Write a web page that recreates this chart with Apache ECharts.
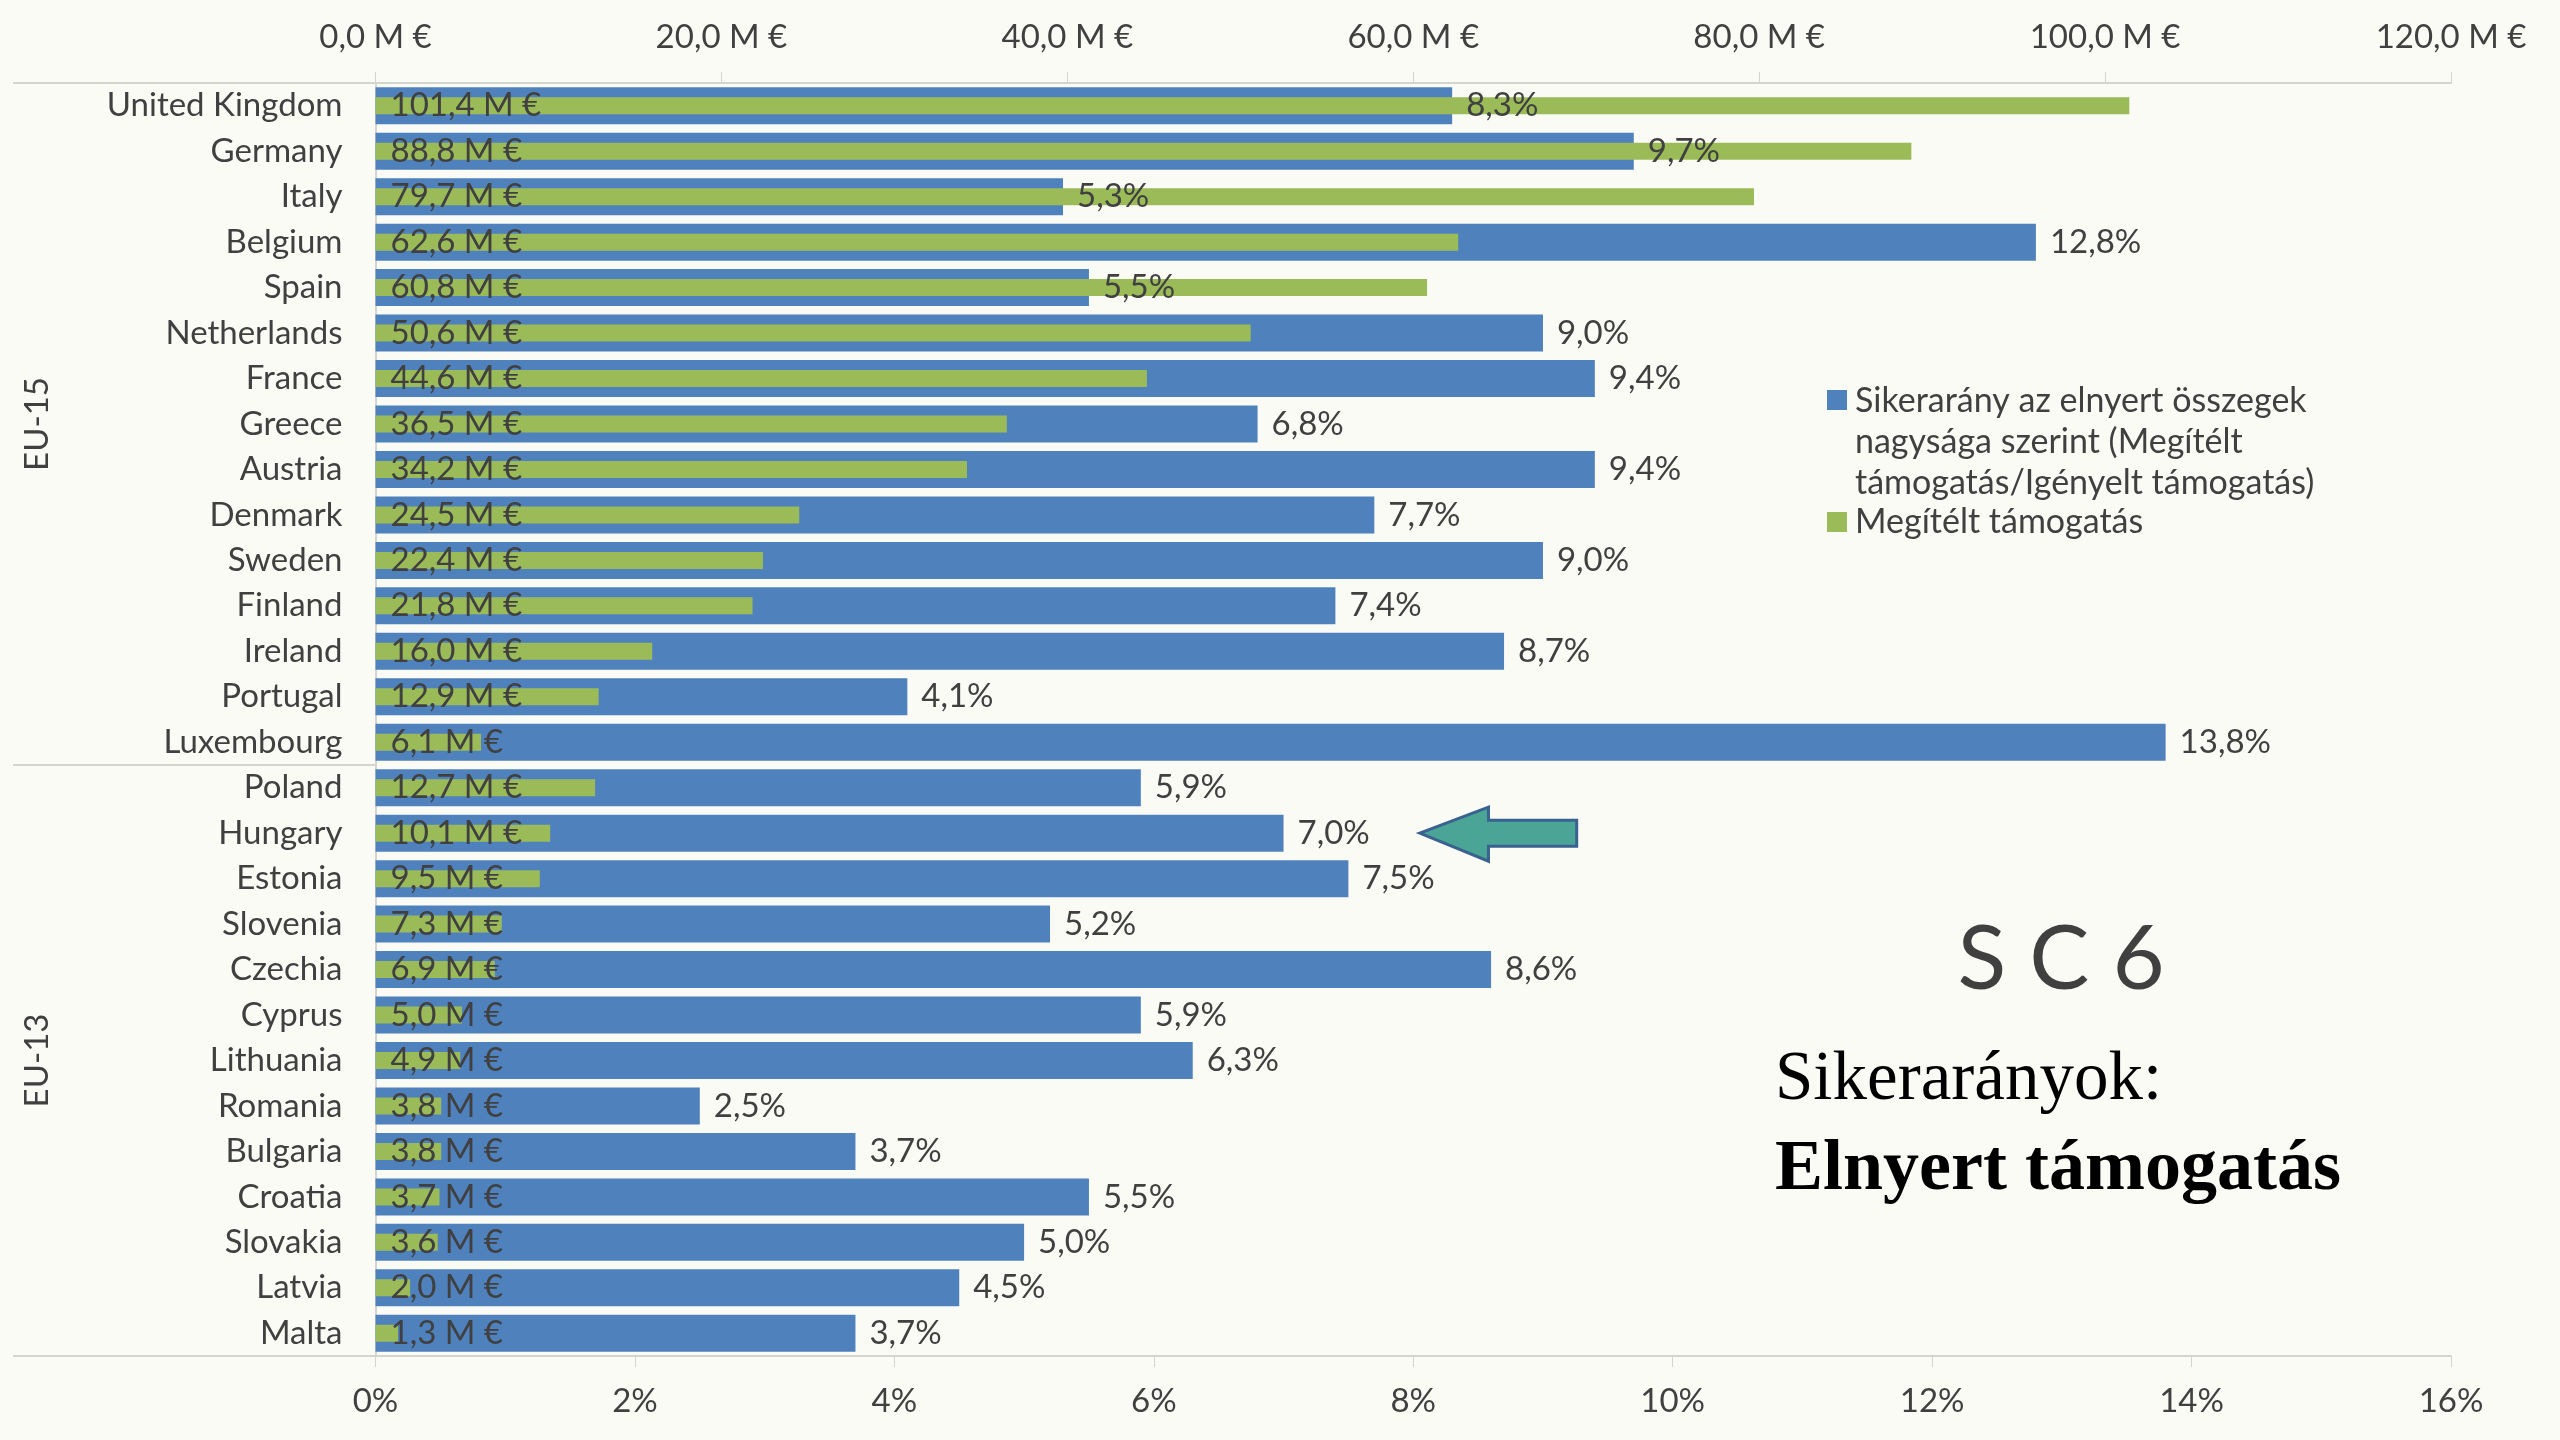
<!DOCTYPE html>
<html>
<head>
<meta charset="utf-8">
<script src="https://cdn.jsdelivr.net/npm/echarts@6/dist/echarts.min.js"></script>
<style>
html,body{margin:0;padding:0;background:#fbfbf6;}
#c{width:2560px;height:1440px;}
</style>
</head>
<body>
<div id="c"></div>
<script>
// ---- data ----
const countries = ['United Kingdom','Germany','Italy','Belgium','Spain','Netherlands','France','Greece','Austria','Denmark','Sweden','Finland','Ireland','Portugal','Luxembourg','Poland','Hungary','Estonia','Slovenia','Czechia','Cyprus','Lithuania','Romania','Bulgaria','Croatia','Slovakia','Latvia','Malta'];
const awardedMEUR = [101.4,88.8,79.7,62.6,60.8,50.6,44.6,36.5,34.2,24.5,22.4,21.8,16.0,12.9,6.1,12.7,10.1,9.5,7.3,6.9,5.0,4.9,3.8,3.8,3.7,3.6,2.0,1.3];
const successRatePct = [8.3,9.7,5.3,12.8,5.5,9.0,9.4,6.8,9.4,7.7,9.0,7.4,8.7,4.1,13.8,5.9,7.0,7.5,5.2,8.6,5.9,6.3,2.5,3.7,5.5,5.0,4.5,3.7];
const groupNames = ['EU-15','EU-13'];
const groupFirst = ['United Kingdom','Poland'];
const groupLast = ['Luxembourg','Malta'];
const seriesNames = ['Sikerarány az elnyert összegek nagysága szerint (Megítélt támogatás/Igényelt támogatás)','Megítélt támogatás'];
const pctAxis = {min:0, max:16, interval:2};
const eurAxis = {min:0, max:120, interval:20};
const highlighted = 'Hungary';

// ---- style ----
const FONT = 'Lato';
const TXT = '#404040';
const AX = '#d4d4d0';
const BLUE = '#4F81BD';
const GREEN = '#9BBB59';
const BG = '#fbfbf6';
const fmtNum = v => v.toFixed(1).replace('.', ',');

const chart = echarts.init(document.getElementById('c'), null, {renderer:'canvas'});
const option = {
  backgroundColor: BG,
  animation: false,
  grid: {left: 375.5, right: 109, top: 83, bottom: 84, containLabel: false},
  xAxis: [
    {type:'value', position:'bottom', min:pctAxis.min, max:pctAxis.max, interval:pctAxis.interval,
     axisLine:{show:true, onZero:false, lineStyle:{color:AX, width:2}},
     axisTick:{show:true, length:11, lineStyle:{color:AX, width:1}},
     splitLine:{show:false},
     axisLabel:{formatter: v => v + '%', fontSize:33, color:TXT, fontFamily:FONT, margin:29}},
    {type:'value', position:'top', min:eurAxis.min, max:eurAxis.max, interval:eurAxis.interval,
     axisLine:{show:true, onZero:false, lineStyle:{color:AX, width:2}},
     axisTick:{show:true, length:11, lineStyle:{color:AX, width:1}},
     splitLine:{show:false},
     axisLabel:{formatter: v => fmtNum(v) + ' M €', fontSize:33, color:TXT, fontFamily:FONT, margin:29}}
  ],
  yAxis: [
    {type:'category', data:countries, inverse:true,
     axisLine:{show:true, onZero:false, lineStyle:{color:AX, width:2}},
     axisTick:{show:false},
     axisLabel:{fontSize:33, color:TXT, fontFamily:FONT, margin:33}},
    {type:'category', data:countries, inverse:true, show:false}
  ],
  series: [
    {name:seriesNames[0], type:'bar', xAxisIndex:0, yAxisIndex:0, data:successRatePct, barWidth:37,
     itemStyle:{color:BLUE},
     label:{show:true, position:'right', distance:14, color:TXT, fontSize:33, fontFamily:FONT,
            formatter: p => fmtNum(p.value) + '%'}},
    {name:seriesNames[1], type:'bar', xAxisIndex:1, yAxisIndex:1, data:awardedMEUR, barWidth:17,
     itemStyle:{color:GREEN},
     label:{show:true, position:[15,'50%'], align:'left', verticalAlign:'middle', color:TXT, fontSize:33, fontFamily:FONT,
            formatter: p => fmtNum(p.value) + ' M €'}}
  ]
};
chart.setOption(option);

// ---- decorations computed from the axes ----
const yOf = name => chart.convertToPixel({yAxisIndex:0}, name);
const xPct = v => chart.convertToPixel({xAxisIndex:0}, v);
const band = yOf(countries[1]) - yOf(countries[0]);
const gridLeft = xPct(0);
const graphics = [];
const lineStyle = {stroke:AX, lineWidth:2};
const yTop = yOf(countries[0]) - band/2;
const yBot = yOf(countries[countries.length-1]) + band/2;
const ySep = (yOf(groupLast[0]) + yOf(groupFirst[1]))/2;
[yTop, yBot, ySep].forEach(y => {
  graphics.push({type:'line', shape:{x1:13, y1:y, x2:gridLeft, y2:y}, style:lineStyle, silent:true});
});
groupNames.forEach((g,i) => {
  const yc = (yOf(groupFirst[i]) + yOf(groupLast[i]))/2;
  graphics.push({type:'text', x:37, y:yc, rotation:Math.PI/2,
    style:{text:g, fill:TXT, font:'33px ' + FONT, align:'center', verticalAlign:'middle'}, silent:true});
});
// legend
graphics.push({type:'rect', shape:{x:1827, y:390, width:20, height:20}, style:{fill:BLUE}});
graphics.push({type:'text', x:1855, y:380.5, style:{text:'Sikerarány az elnyert összegek\nnagysága szerint (Megítélt\ntámogatás/Igényelt támogatás)', fill:TXT, font:'34px ' + FONT, lineHeight:41, align:'left', verticalAlign:'top'}});
graphics.push({type:'rect', shape:{x:1827, y:512, width:20, height:20}, style:{fill:GREEN}});
graphics.push({type:'text', x:1855, y:522, style:{text:'Megítélt támogatás', fill:TXT, font:'34px ' + FONT, align:'left', verticalAlign:'middle'}});
// arrow pointing at the highlighted country
const ya = yOf(highlighted);
const xt = xPct(8.05), xh = xPct(8.58), xe = xPct(9.26);
graphics.push({type:'polygon', shape:{points:[[xt,ya],[xh,ya-26],[xh,ya-13],[xe,ya-13],[xe,ya+13],[xh,ya+13],[xh,ya+28]]},
  style:{fill:'#4aa596', stroke:'#3a6290', lineWidth:3}});
// title block
graphics.push({type:'text', x:2061, y:960, style:{text:'S C 6', fill:TXT, font:'90px ' + FONT, align:'center', verticalAlign:'middle'}});
graphics.push({type:'text', x:1775, y:1081, style:{text:'Sikerarányok:', fill:'#000', font:'69px "Liberation Serif"', align:'left', verticalAlign:'middle'}});
graphics.push({type:'text', x:1775, y:1170, style:{text:'Elnyert támogatás', fill:'#000', font:'bold 72px "Liberation Serif"', align:'left', verticalAlign:'middle'}});
chart.setOption({graphic: graphics});
</script>
</body>
</html>
